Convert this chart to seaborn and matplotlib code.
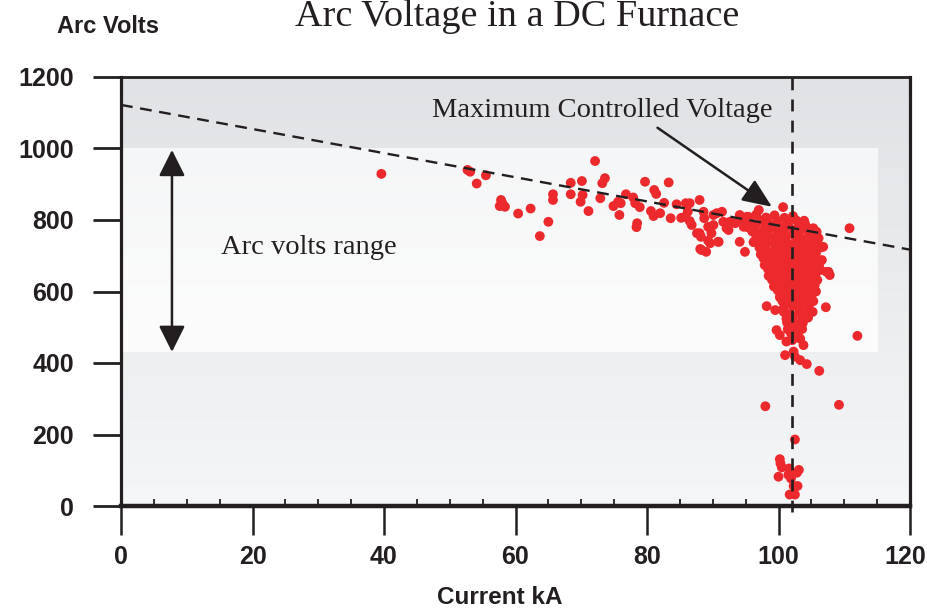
import numpy as np
import pandas as pd
import matplotlib
matplotlib.use("Agg")
import matplotlib.pyplot as plt
from matplotlib.colors import LinearSegmentedColormap
import seaborn as sns

# ---- data -------------------------------------------------------------
# Spread-out operating points (current kA, arc volts)
trail_ka = [39.6, 52.7, 53.1, 55.5, 54.1, 57.8, 58.0, 57.6, 58.4, 60.4, 62.3, 65.0, 63.7,
            65.7, 65.7, 72.1, 68.4, 70.1, 68.4, 70.2, 69.9, 71.1, 72.9, 73.2, 73.6,
            74.9, 75.6, 76.0, 75.8, 76.8, 77.9, 78.2, 78.9, 78.5, 78.4, 79.7, 81.1, 81.4,
            80.6, 81.0, 82.0, 82.6, 83.3, 83.6, 84.5, 85.2, 85.9, 86.5, 86.2, 86.5, 86.8,
            88.0, 88.0, 88.2, 88.6, 88.7, 90.1, 91.4, 90.6, 89.6, 89.8, 89.3, 89.6, 90.9,
            88.1, 89.0, 91.6, 92.4, 85.8, 87.6, 88.3, 89.3, 90.1, 90.8, 92.1,
            94.1, 95.4, 94.1, 94.9, 97.0, 100.7, 103.9, 92.6, 93.4, 95.7, 96.4, 96.7, 94.7]
trail_v = [929, 940, 935, 925, 902, 856, 847, 839, 837, 818, 832, 795, 755,
           872, 856, 965, 904, 909, 872, 870, 851, 825, 861, 903, 917,
           839, 851, 847, 814, 872, 863, 847, 836, 791, 780, 907, 884, 873,
           825, 811, 819, 848, 905, 805, 844, 806, 847, 847, 823, 797, 786,
           856, 763, 753, 823, 805, 814, 823, 819, 777, 763, 742, 735, 739,
           719, 711, 795, 772, 809, 763, 716, 781, 786, 739, 777,
           814, 809, 739, 711, 828, 836, 798, 795, 791, 786, 772, 744, 781]

# Dense block of readings near the current limit
cluster_ka = [95.2, 96.6, 98.1, 99.4, 100.9, 102.2,
              94.6, 95.9, 97.3, 98.5, 99.9, 101.4, 102.7, 104.0,
              95.4, 96.5, 97.9, 99.0, 100.4, 101.5, 102.9, 104.2, 105.3,
              96.0, 97.4, 98.4, 99.8, 100.8, 102.2, 103.2, 104.6, 105.8,
              96.6, 97.6, 98.9, 100.1, 101.1, 102.5, 103.5, 104.9, 106.1,
              96.2, 97.6, 98.6, 100.0, 101.2, 102.3, 103.6, 104.6, 105.9,
              97.1, 98.1, 99.5, 100.5, 101.9, 102.9, 104.3, 105.3, 106.4,
              97.3, 98.7, 99.7, 101.1, 102.1, 103.5, 104.5, 105.7,
              97.7, 98.8, 100.1, 101.1, 102.5, 103.5, 104.9, 105.8,
              97.9, 99.2, 100.2, 101.6, 102.6, 104.0, 105.0, 106.2,
              98.4, 99.4, 100.8, 101.8, 103.2, 104.2, 105.6, 106.4,
              98.5, 99.9, 100.9, 102.3, 103.3, 104.7, 105.6,
              99.0, 100.0, 101.4, 102.4, 103.8, 104.8, 105.9,
              99.3, 100.7, 101.7, 103.1, 104.1, 105.5,
              99.9, 100.9, 102.3, 103.3, 104.7, 105.7,
              100.2, 101.6, 102.6, 104.0, 105.0,
              100.6, 101.6, 103.0, 104.0, 105.3,
              100.8, 102.2, 103.2, 104.6,
              100.8, 101.8, 103.2, 104.2, 105.2,
              101.2, 102.2, 103.6, 104.5,
              101.3, 102.7, 103.7,
              101.4, 102.4, 103.6,
              101.9, 102.9,
              102.1, 103.3]
cluster_v = [809, 815, 807, 813, 806, 811,
             798, 793, 799, 792, 797, 794, 799, 791,
             779, 784, 778, 783, 779, 784, 778, 782, 777,
             768, 763, 769, 764, 768, 763, 769, 764, 767,
             749, 754, 748, 753, 750, 754, 748, 752, 749,
             738, 733, 739, 734, 738, 733, 737, 734, 738,
             723, 718, 722, 719, 724, 719, 722, 718, 723,
             704, 709, 703, 708, 704, 709, 703, 707,
             693, 688, 694, 689, 693, 688, 692, 690,
             674, 679, 673, 678, 674, 679, 673, 677,
             663, 658, 662, 659, 664, 658, 662, 660,
             644, 649, 643, 648, 644, 649, 645,
             633, 628, 632, 629, 634, 628, 632,
             614, 619, 613, 618, 614, 617,
             603, 598, 602, 599, 604, 600,
             584, 589, 583, 588, 585,
             573, 568, 572, 569, 573,
             554, 559, 553, 558,
             543, 538, 542, 539, 543,
             524, 529, 523, 527,
             513, 508, 512,
             494, 499, 495,
             483, 478,
             464, 468]

# Low-voltage excursions and stray points
stray_ka = [106.8, 107.3, 106.6, 107.8, 107.6, 98.2, 99.5, 107.2,
            99.7, 100.2, 101.2, 101.0, 102.3, 103.3, 104.3, 103.8, 102.5, 106.2,
            98.0, 109.2, 102.5, 100.2, 100.3, 100.5, 100.0,
            101.6, 101.5, 101.9, 102.8, 103.1, 102.3, 102.9, 101.7, 102.5,
            110.8, 112.0]
stray_v = [725, 655, 688, 646, 655, 559, 548, 556,
           492, 478, 460, 422, 432, 408, 397, 450, 418, 378,
           279, 283, 186, 131, 119, 108, 82,
           105, 87, 77, 93, 101, 56, 56, 32, 32,
           777, 476]

# Reference limits
max_ctrl_v_at_zero = 1122      # volts at 0 kA on the max controlled voltage line
max_ctrl_v_at_120 = 717        # volts at 120 kA
current_limit_ka = 102.1       # vertical current limit
range_low_v, range_high_v = 430, 1000
range_max_ka = 115

x_ticks = [0, 20, 40, 60, 80, 100, 120]
y_ticks = [0, 200, 400, 600, 800, 1000, 1200]

# ---- figure -----------------------------------------------------------
sns.set_style("white")
plt.rcParams["font.family"] = ["Liberation Sans", "DejaVu Sans"]

ink = "#231f20"
dot = "#ec2a2e"

fig = plt.figure(figsize=(9.27, 6.10), dpi=100)
ax = fig.add_axes([121 / 927, 104 / 610, 789 / 927, 429 / 610])

# soft vertical gradient behind the plot
grad = np.linspace(0, 1, 256).reshape(-1, 1)
bg_cmap = LinearSegmentedColormap.from_list("bg", ["#f5f6f7", "#e1e2e5"])
ax.imshow(grad, cmap=bg_cmap, origin="lower", aspect="auto",
          extent=(0, 120, 0, 1200), zorder=0)
band_cmap = LinearSegmentedColormap.from_list("band", ["#fcfcfc", "#f5f6f7"])
ax.imshow(grad, cmap=band_cmap, origin="lower", aspect="auto",
          extent=(0, range_max_ka, range_low_v, range_high_v), zorder=0.5)

df = pd.DataFrame({
    "Current kA": trail_ka + cluster_ka + stray_ka,
    "Arc Volts": trail_v + cluster_v + stray_v,
})
sns.scatterplot(data=df, x="Current kA", y="Arc Volts", color=dot, s=50,
                edgecolor="none", linewidth=0, ax=ax, zorder=3, legend=False)

# maximum controlled voltage line and current limit
ax.plot([0, 120], [max_ctrl_v_at_zero, max_ctrl_v_at_120], color=ink, lw=1.7,
        dashes=(5, 3.2), zorder=4)
ax.plot([current_limit_ka, current_limit_ka], [-18, 1200], color=ink, lw=1.9,
        dashes=(4.5, 3.5), zorder=4, clip_on=False)

ax.set_xlim(0, 120)
ax.set_ylim(0, 1200)

# arc volts range marker
ax.annotate("", xy=(7.75, range_low_v + 1), xytext=(7.75, range_high_v - 4),
            arrowprops=dict(arrowstyle="<|-|>,head_length=0.8,head_width=0.4",
                            color=ink, lw=1.8, mutation_scale=20,
                            shrinkA=0, shrinkB=0), zorder=5)
ax.text(15.2, 722, "Arc volts range", family="Liberation Serif", fontsize=20.5,
        color=ink, ha="left", va="center", zorder=5)

ax.annotate("", xy=(99.0, 837), xytext=(81.6, 1058),
            arrowprops=dict(arrowstyle="-|>,head_length=0.9,head_width=0.38",
                            color=ink, lw=1.8, mutation_scale=20,
                            shrinkA=0, shrinkB=0), zorder=5)
ax.text(73.2, 1107, "Maximum Controlled Voltage", family="Liberation Serif",
        fontsize=20.5, color=ink, ha="center", va="center", zorder=5)

# axes styling
for side, w in (("left", 2.3), ("right", 2.3), ("top", 2.0), ("bottom", 3.2)):
    ax.spines[side].set_visible(True)
    ax.spines[side].set_linewidth(w)
    ax.spines[side].set_color(ink)
    ax.spines[side].set_zorder(6)

ax.set_xticks(x_ticks)
ax.set_xticks(list(range(0, 121, 5)), minor=True)
ax.set_yticks(y_ticks)
ax.set_xticklabels([str(t) for t in x_ticks])
ax.set_yticklabels([str(t) for t in y_ticks])
ax.tick_params(axis="x", which="both", bottom=True, top=False)
ax.tick_params(axis="y", which="both", left=True, right=False)
ax.tick_params(axis="x", which="major", direction="out", length=21, width=1.8,
               color=ink, pad=7, labelsize=18, labelcolor=ink)
ax.tick_params(axis="x", which="minor", direction="in", length=5, width=1.3,
               color=ink)
ax.tick_params(axis="y", which="major", direction="out", length=20, width=2.0,
               color=ink, pad=14, labelsize=18, labelcolor=ink)
for lab in ax.get_xticklabels() + ax.get_yticklabels():
    lab.set_fontweight("bold")
# keep the last x label inside the canvas
last = ax.get_xticklabels()[-1]
last.set_horizontalalignment("right")
last.set_x(120)
from matplotlib.transforms import ScaledTranslation
last.set_transform(last.get_transform() + ScaledTranslation(16 / 100, 0, fig.dpi_scale_trans))

ax.set_xlabel("")
ax.set_ylabel("")

fig.text(500 / 927, 1 - 598 / 610, "Current kA", ha="center", va="center",
         fontsize=17.5, fontweight="bold", color=ink)
fig.text(57 / 927, 1 - 33 / 610, "Arc Volts", ha="left", va="baseline",
         fontsize=17, fontweight="bold", color=ink)
fig.text(517 / 927, 1 - 26 / 610, "Arc Voltage in a DC Furnace", ha="center",
         va="baseline", fontsize=27.5, family="Liberation Serif", color=ink)

fig.savefig("out.png", dpi=100, facecolor="white")
